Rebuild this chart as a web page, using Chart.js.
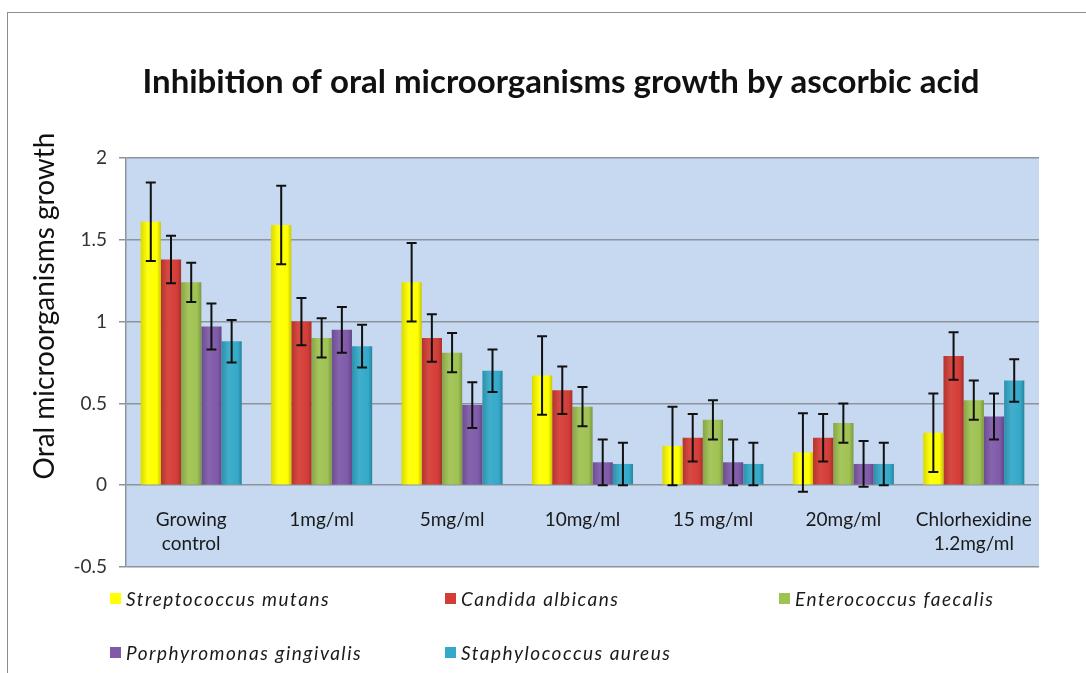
<!DOCTYPE html>
<html>
<head>
<meta charset="utf-8">
<script src="https://cdn.jsdelivr.net/npm/chart.js@4.4.1/dist/chart.umd.min.js"></script>
<style>
  html, body { margin: 0; padding: 0; background: #fff; }
  #wrap { position: relative; width: 1086px; height: 673px; overflow: hidden; }
  #frame { position: absolute; left: 7px; top: 12px; width: 1200px; height: 800px;
           border-top: 1px solid #8c8c8c; border-left: 1px solid #8c8c8c; }
  canvas { position: absolute; left: 0; top: 0; }
  .leg { position: absolute; font: italic 19px Lato, sans-serif; letter-spacing: 1.5px; color: #1a1a1a;
         display: flex; align-items: center; white-space: nowrap; height: 22px; }
  .leg i { display: inline-block; width: 11px; height: 11px; margin-right: 5px; }
</style>
</head>
<body>
<div id="wrap">
  <div id="frame"></div>
  <canvas id="chart" width="1086" height="673"></canvas>
  <div id="legend"></div>
</div>
<script>
// categories and series
const categories = [['Growing', 'control'], '1mg/ml', '5mg/ml', '10mg/ml', '15 mg/ml', '20mg/ml', ['Chlorhexidine', '1.2mg/ml']];
const seriesNames = ['Streptococcus mutans', 'Candida albicans', 'Enterococcus faecalis', 'Porphyromonas gingivalis', 'Staphylococcus aureus'];

const mutans     = [1.61, 1.59, 1.24, 0.67, 0.24, 0.20, 0.32];
const albicans   = [1.38, 1.00, 0.90, 0.58, 0.29, 0.29, 0.79];
const faecalis   = [1.24, 0.90, 0.81, 0.48, 0.40, 0.38, 0.52];
const gingivalis = [0.97, 0.95, 0.49, 0.14, 0.14, 0.13, 0.42];
const aureus     = [0.88, 0.85, 0.70, 0.13, 0.13, 0.13, 0.64];

// error bar half-lengths
const errMutans     = [0.24, 0.24, 0.24, 0.24, 0.24, 0.24, 0.24];
const errAlbicans   = [0.145, 0.145, 0.145, 0.145, 0.145, 0.145, 0.145];
const errFaecalis   = [0.12, 0.12, 0.12, 0.12, 0.12, 0.12, 0.12];
const errGingivalis = [0.14, 0.14, 0.14, 0.14, 0.14, 0.14, 0.14];
const errAureus     = [0.13, 0.13, 0.13, 0.13, 0.13, 0.13, 0.13];

const yTicks = [-0.5, 0, 0.5, 1, 1.5, 2];

const seriesValues = [mutans, albicans, faecalis, gingivalis, aureus];
const seriesErrors = [errMutans, errAlbicans, errFaecalis, errGingivalis, errAureus];
const colors = ['#ffff00', '#d43d37', '#9fc253', '#7f5aa9', '#35a9c9'];

function mix(hex, target, t) {
  const n = parseInt(hex.slice(1), 16);
  const r = (n >> 16) & 255, g = (n >> 8) & 255, b = n & 255;
  const m = c => Math.round(c + (target - c) * t);
  return `rgb(${m(r)},${m(g)},${m(b)})`;
}

// light blue plot area
const plotBg = {
  id: 'plotBg',
  beforeDraw(chart) {
    const { ctx, chartArea: a } = chart;
    ctx.save();
    ctx.fillStyle = '#c6d9f0';
    ctx.fillRect(a.left, a.top, a.right - a.left, a.bottom - a.top);
    ctx.restore();
  }
};

// cylinder-like shading on bars (options are per element since colour is scriptable)
const barShade = {
  id: 'barShade',
  beforeDatasetsDraw(chart) {
    const ctx = chart.ctx;
    chart.data.datasets.forEach((ds, i) => {
      chart.getDatasetMeta(i).data.forEach(el => {
        const g = ctx.createLinearGradient(el.x - el.width / 2, 0, el.x + el.width / 2, 0);
        g.addColorStop(0, mix(colors[i], 0, 0.15));
        g.addColorStop(0.35, mix(colors[i], 255, 0.06));
        g.addColorStop(0.8, colors[i]);
        g.addColorStop(1, mix(colors[i], 0, 0.22));
        el.options.backgroundColor = g;
      });
    });
  }
};

// error bars
const errorBars = {
  id: 'errorBars',
  afterDatasetsDraw(chart) {
    const { ctx } = chart;
    const y = chart.scales.y;
    ctx.save();
    ctx.strokeStyle = '#111';
    ctx.lineWidth = 2;
    chart.data.datasets.forEach((ds, i) => {
      chart.getDatasetMeta(i).data.forEach((el, j) => {
        const v = ds.data[j], e = seriesErrors[i][j];
        const top = y.getPixelForValue(v + e), bot = y.getPixelForValue(v - e);
        ctx.beginPath();
        ctx.moveTo(el.x, top); ctx.lineTo(el.x, bot);
        ctx.moveTo(el.x - 5, top); ctx.lineTo(el.x + 5, top);
        ctx.moveTo(el.x - 5, bot); ctx.lineTo(el.x + 5, bot);
        ctx.stroke();
      });
    });
    ctx.restore();
  }
};

// chart and axis titles
const titles = {
  id: 'titles',
  afterDraw(chart) {
    const { ctx } = chart;
    ctx.save();
    ctx.fillStyle = '#111';
    ctx.textAlign = 'center';
    ctx.textBaseline = 'middle';
    ctx.font = 'bold 33px Lato, sans-serif';
    ctx.fillText('Inhibition of oral microorganisms growth by ascorbic acid', 561, 82);
    ctx.translate(45, 306);
    ctx.rotate(-Math.PI / 2);
    ctx.font = '28px Lato, sans-serif';
    ctx.fillText('Oral microorganisms growth', 0, 0);
    ctx.restore();
  }
};

new Chart(document.getElementById('chart'), {
  type: 'bar',
  data: {
    labels: categories,
    datasets: seriesValues.map((vals, i) => ({
      label: seriesNames[i],
      data: vals,
      backgroundColor: () => colors[i],
      borderWidth: 0,
      barPercentage: 1,
      categoryPercentage: 0.775
    }))
  },
  options: {
    responsive: false,
    animation: false,
    devicePixelRatio: 1,
    layout: { padding: { top: 158, bottom: 106, left: 0, right: 47 } },
    plugins: { legend: { display: false }, tooltip: { enabled: false } },
    scales: {
      x: {
        position: { y: 0 },
        grid: { display: false },
        border: { display: false },
        ticks: { color: '#1a1a1a', font: { family: 'Lato', size: 19, lineHeight: 1.3 }, padding: 14, maxRotation: 0, autoSkip: false }
      },
      y: {
        min: -0.5, max: 2,
        afterFit: s => { s.width = 126; },
        afterBuildTicks: s => { s.ticks = yTicks.map(v => ({ value: v })); },
        grid: { color: '#8c939c', lineWidth: 1.5, tickLength: 7 },
        border: { color: '#8c939c', width: 1.5 },
        ticks: { color: '#333', font: { family: 'Lato', size: 19 }, padding: 12, callback: v => String(v) }
      }
    }
  },
  plugins: [plotBg, barShade, errorBars, titles]
});

// legend in three columns
const legCols = [110, 445, 779];
const legRows = [587, 641];
const legend = document.getElementById('legend');
seriesNames.forEach((name, i) => {
  const d = document.createElement('div');
  d.className = 'leg';
  d.style.left = legCols[i % 3] + 'px';
  d.style.top = legRows[Math.floor(i / 3)] + 'px';
  d.innerHTML = `<i style="background:${colors[i]}"></i>${name}`;
  legend.appendChild(d);
});
</script>
</body>
</html>
